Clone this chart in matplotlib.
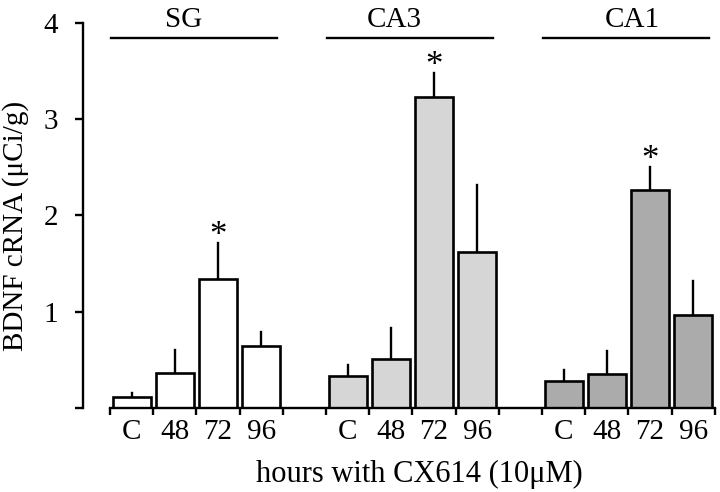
import matplotlib
matplotlib.use("Agg")
import matplotlib.pyplot as plt
import numpy as np

plt.rcParams['font.family'] = ['Liberation Serif', 'DejaVu Serif']

# values (uCi/g)
regions = ["SG", "CA3", "CA1"]
conditions = ["C", "48", "72", "96"]
sg_mean = [0.11, 0.36, 1.34, 0.64]
sg_err = [0.05, 0.24, 0.37, 0.15]
ca3_mean = [0.33, 0.51, 3.23, 1.62]
ca3_err = [0.12, 0.32, 0.25, 0.70]
ca1_mean = [0.28, 0.35, 2.26, 0.97]
ca1_err = [0.12, 0.24, 0.24, 0.35]
significant = [False, False, True, False]

means = [sg_mean, ca3_mean, ca1_mean]
errs = [sg_err, ca3_err, ca1_err]
fills = ["white", "#d6d6d6", "#ababab"]
label_shift = [1.2, 1.07, 1.6]   # where each region name sits over its line

fig = plt.figure(figsize=(7.2, 4.92), dpi=100)
ax = fig.add_axes([0.1153, 0.1707, 0.8835, 0.7826])

fs = 21
xticks, xlabels = [], []
for g, region in enumerate(regions):
    x = np.arange(len(conditions)) + g * 5
    ax.bar(x, means[g], width=0.88, color=fills[g], edgecolor="black",
           linewidth=1.9, zorder=2)
    for xi, m, e, sig in zip(x, means[g], errs[g], significant):
        ax.plot([xi, xi], [m, m + e], color="black", lw=1.7, zorder=1)
        if sig:
            ax.annotate("*", (xi, m + e), xytext=(0, -7), textcoords="offset points",
                        ha="center", va="bottom", fontsize=fs + 4)
    # region bar and label above the plot
    ax.plot([g * 5 - 0.48, g * 5 + 3.37], [3.84, 3.84], color="black", lw=1.7,
            clip_on=False)
    ax.text(g * 5 + label_shift[g], 4.03, region, ha="center", va="center",
            fontsize=fs)
    xticks.extend(x)
    xlabels.extend(conditions)

ax.set_xlim(-1.125, 13.6)
ax.set_ylim(0, 4)

ax.set_xticks(xticks)
ax.set_xticklabels(xlabels, fontsize=fs)
ax.tick_params(axis="x", length=0, pad=8)
edges = sorted(set(g * 5 + k - 0.5 for g in range(3) for k in range(5)))
ax.set_xticks(edges, minor=True)
ax.tick_params(axis="x", which="minor", length=5, width=1.7, direction="out")

ax.set_yticks([0, 1, 2, 3, 4])
ax.set_yticklabels(["", "1", "2", "3", "4"], fontsize=fs)
ax.tick_params(axis="y", length=6, width=1.7, pad=12, direction="out")

for s in ["top", "right"]:
    ax.spines[s].set_visible(False)
ax.spines["left"].set_linewidth(1.7)
ax.spines["bottom"].set_linewidth(1.7)
ax.spines["left"].set_bounds(0, 4)
ax.spines["bottom"].set_bounds(-0.5, 13.5)

fig.text(0.583, 0.036, "hours with CX614 (10\u03bcM)", ha="center", va="center",
         fontsize=fs + 1)
fig.text(0.022, 0.541, "BDNF cRNA (\u03bcCi/g)", ha="center", va="center",
         rotation=90, fontsize=fs)

fig.savefig("out.png", dpi=100)
